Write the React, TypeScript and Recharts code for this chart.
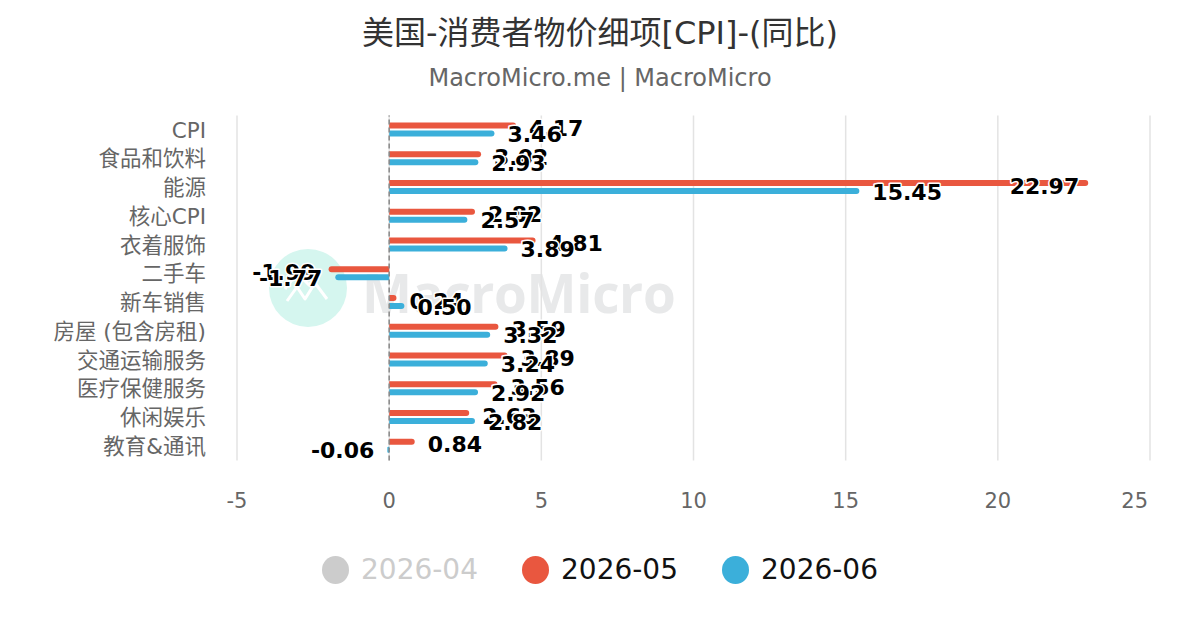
import React from "react";
import {
  BarChart,
  Bar,
  XAxis,
  YAxis,
  CartesianGrid,
  ReferenceLine,
  LabelList,
} from "recharts";

const categories = [
  "CPI",
  "食品和饮料",
  "能源",
  "核心CPI",
  "衣着服饰",
  "二手车",
  "新车销售",
  "房屋 (包含房租)",
  "交通运输服务",
  "医疗保健服务",
  "休闲娱乐",
  "教育&通讯",
];
const may2026 = [4.17, 3.02, 22.97, 2.82, 4.81, -1.99, 0.24, 3.59, 3.89, 3.56, 2.63, 0.84];
const jun2026 = [3.46, 2.93, 15.45, 2.57, 3.89, -1.77, 0.5, 3.32, 3.24, 2.92, 2.82, -0.06];
const xTicks = [-5, 0, 5, 10, 15, 20, 25];
const legendItems = [
  { name: "2026-04", color: "#cccccc", hidden: true },
  { name: "2026-05", color: "#e9573f", hidden: false },
  { name: "2026-06", color: "#3bafda", hidden: false },
];

const data = categories.map((c, i) => ({ name: c, may: may2026[i], jun: jun2026[i] }));

const W = 1200;
const H = 630;
const M = { top: 115.6, right: 50, bottom: 109.5, left: 0 };
const PLOT_RIGHT = W - M.right;
const FONT = "'DejaVu Sans', 'Noto Sans CJK SC', sans-serif";

const makeLabel = (dy: number) => (props: any) => {
  const { x, y, width, height, value } = props;
  const text = Number(value).toFixed(2);
  const tw = text.length * 13.5;
  const end = x + width;
  let tx: number;
  let anchor: "start" | "end";
  if (value >= 0) {
    if (end + 13 + tw > PLOT_RIGHT) {
      tx = end - 9;
      anchor = "end";
    } else {
      tx = end + 13;
      anchor = "start";
    }
  } else {
    tx = end - 13;
    anchor = "end";
  }
  return (
    <text
      x={tx}
      y={y + height / 2 + dy}
      textAnchor={anchor}
      dominantBaseline="central"
      fontFamily={FONT}
      fontSize={22}
      fontWeight="bold"
      fill="#000"
      stroke="#fff"
      strokeWidth={3}
      strokeLinejoin="round"
      paintOrder="stroke"
    >
      {text}
    </text>
  );
};

const XTick = (props: any) => {
  const { x, y, payload, index, visibleTicksCount } = props;
  const last = index === visibleTicksCount - 1;
  return (
    <text
      x={last ? x - 2 : x}
      y={y}
      dy="0.71em"
      textAnchor={last ? "end" : "middle"}
      fill="#666"
      fontSize={21}
      fontFamily={FONT}
    >
      {payload.value}
    </text>
  );
};

export default function App() {
  return (
    <div
      style={{
        position: "absolute",
        left: 0,
        top: 0,
        width: W,
        height: H,
        background: "#fff",
        fontFamily: FONT,
        overflow: "hidden",
      }}
    >
      {/* watermark */}
      <svg
        style={{ position: "absolute", left: 269, top: 249 }}
        width={80}
        height={80}
        viewBox="0 0 80 80"
      >
        <circle cx={39} cy={39} r={39} fill="#d5f6ef" />
        <polyline
          points="18,52 28,38 36,50 46,34 58,50"
          fill="none"
          stroke="#fff"
          strokeWidth={3}
          strokeLinejoin="round"
        />
        <polyline
          points="16,40 28,24 40,36 52,22"
          fill="none"
          stroke="#fff"
          strokeWidth={3}
          strokeLinejoin="round"
        />
      </svg>
      <div
        style={{
          position: "absolute",
          left: 362,
          top: 256,
          fontSize: 53,
          fontWeight: "bold",
          color: "#e8e9ea",
          fontFamily: "'Open Sans', 'DejaVu Sans', sans-serif",
          letterSpacing: -0.3,
        }}
      >
        MacroMicro
      </div>
      <div
        style={{
          position: "absolute",
          left: 0,
          top: 13,
          width: W,
          textAlign: "center",
          fontSize: 32,
          color: "#333",
          lineHeight: "40px",
        }}
      >
        美国-消费者物价细项[CPI]-(同比)
      </div>
      <div
        style={{
          position: "absolute",
          left: 0,
          top: 63,
          width: W,
          textAlign: "center",
          fontSize: 24,
          color: "#666",
          lineHeight: "30px",
        }}
      >
        MacroMicro.me | MacroMicro
      </div>
      <div style={{ position: "absolute", left: 0, top: 0 }}>
        <BarChart
          width={W}
          height={H}
          data={data}
          layout="vertical"
          margin={M}
          barSize={6}
          barGap={2}
        >
          <CartesianGrid horizontal={false} vertical={true} stroke="#e3e3e3" strokeWidth={1.5} />
          <XAxis
            type="number"
            domain={[-5, 25]}
            ticks={xTicks}
            axisLine={false}
            tickLine={false}
            tickSize={0}
            tickMargin={33}
            height={60}
            tick={<XTick />}
          />
          <YAxis
            type="category"
            dataKey="name"
            width={237}
            axisLine={false}
            tickLine={false}
            tickSize={0}
            tickMargin={31}
            interval={0}
            tick={{ fill: "#666", fontSize: 21.5, fontFamily: FONT }}
          />
          <ReferenceLine x={0} stroke="#888" strokeDasharray="5 3" strokeWidth={1.5} />
          <Bar dataKey="may" fill="#e9573f" radius={[0, 3, 3, 0]} isAnimationActive={false}>
            <LabelList dataKey="may" content={makeLabel(3)} />
          </Bar>
          <Bar dataKey="jun" fill="#3bafda" radius={[0, 3, 3, 0]} isAnimationActive={false}>
            <LabelList dataKey="jun" content={makeLabel(1)} />
          </Bar>
        </BarChart>
      </div>
      {/* legend */}
      <div
        style={{
          position: "absolute",
          left: 0,
          top: 550,
          width: W,
          display: "flex",
          justifyContent: "center",
          alignItems: "center",
          gap: 44,
        }}
      >
        {legendItems.map((it) => (
          <div key={it.name} style={{ display: "flex", alignItems: "center" }}>
            <div
              style={{
                width: 27,
                height: 28,
                borderRadius: "50%",
                background: it.color,
                marginRight: 12,
              }}
            />
            <span
              style={{
                fontSize: 28,
                color: it.hidden ? "#cccccc" : "#111",
                lineHeight: "40px",
              }}
            >
              {it.name}
            </span>
          </div>
        ))}
      </div>
    </div>
  );
}
